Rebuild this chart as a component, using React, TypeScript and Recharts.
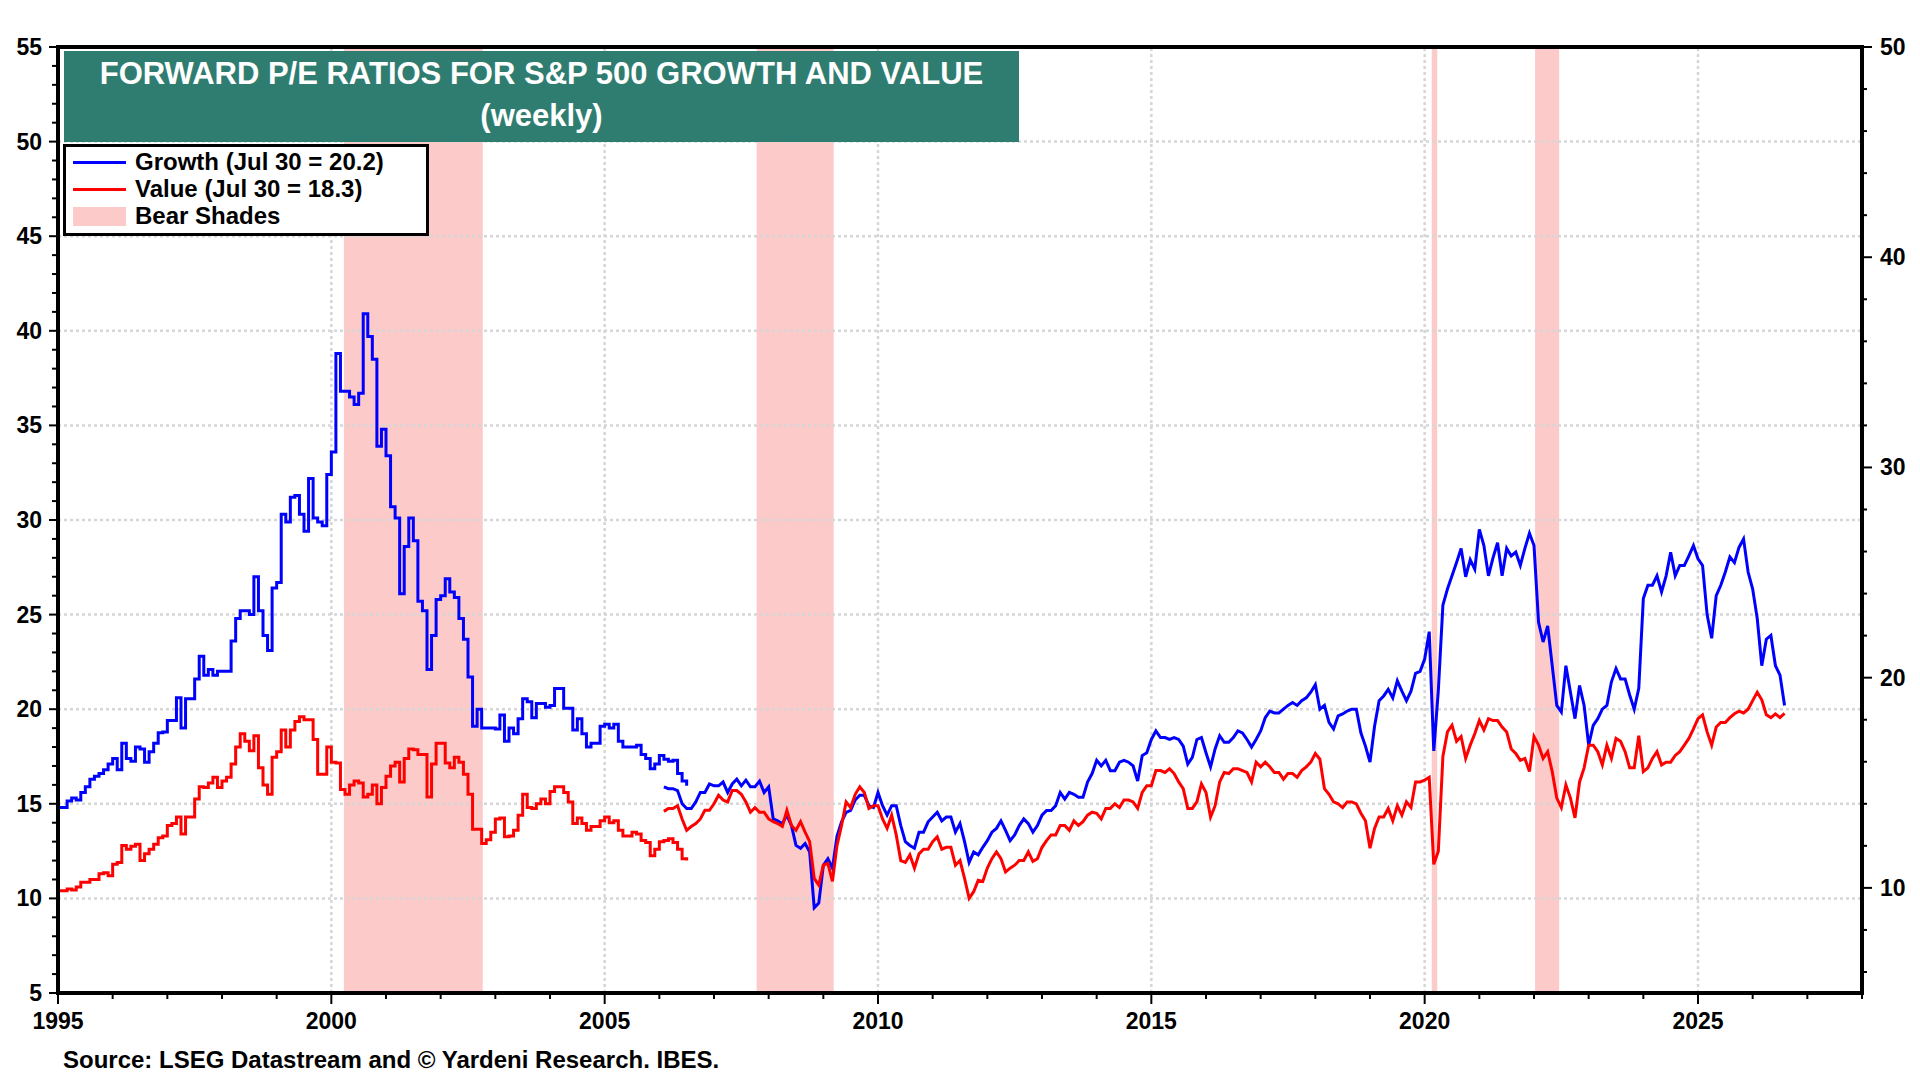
import React from 'react';
import { LineChart, Line, XAxis, YAxis, ReferenceArea, ReferenceLine } from 'recharts';

const FONT = '"Liberation Sans", Arial, Helvetica, sans-serif';

// Old series, monthly steps, Jan 1995 - Jul 2006
const growthOld = [
  14.8, 14.8, 15.15, 15.3, 15.2, 15.6, 15.9, 16.3, 16.45, 16.6, 16.8, 17.1, // 1995
  17.4, 16.8, 18.2, 17.4, 17.25, 18.0, 17.9, 17.2, 17.75, 18.2, 18.75, 18.8, // 1996
  19.4, 19.4, 20.6, 19.0, 20.55, 20.55, 21.6, 22.8, 21.8, 22.1, 21.8, 22.0, // 1997
  22.0, 22.0, 23.6, 24.8, 25.2, 25.2, 25.0, 27.0, 25.2, 23.9, 23.1, 26.4, // 1998
  26.7, 30.3, 29.9, 31.2, 31.3, 30.3, 29.4, 32.2, 30.1, 29.9, 29.7, 32.4, // 1999
  33.6, 38.8, 36.8, 36.8, 36.5, 36.1, 36.7, 40.9, 39.7, 38.5, 33.9, 34.8, // 2000
  33.4, 30.7, 30.1, 26.1, 28.6, 30.1, 28.9, 25.7, 25.2, 22.1, 23.9, 25.8, // 2001
  26.0, 26.9, 26.2, 25.9, 24.8, 23.7, 21.7, 19.1, 20.0, 19.0, 19.0, 19.0, // 2002
  18.95, 19.7, 18.3, 19.0, 18.7, 19.5, 20.55, 20.4, 19.55, 20.3, 20.3, 20.1, // 2003
  20.2, 21.1, 21.1, 20.05, 20.05, 18.9, 19.5, 18.7, 18.0, 18.2, 18.2, 19.1, // 2004
  19.2, 19.0, 19.2, 18.3, 18.0, 18.0, 18.0, 18.1, 17.6, 17.4, 16.85, 17.1, // 2005
  17.55, 17.35, 17.25, 17.3, 16.6, 16.2, 15.95, // 2006
];

const valueOld = [
  9.86, 9.86, 9.95, 9.9, 10.04, 10.27, 10.27, 10.4, 10.4, 10.67, 10.72, 10.58, // 1995
  11.12, 11.21, 12.02, 11.84, 11.98, 12.07, 11.3, 11.62, 11.84, 12.07, 12.38, 12.47, // 1996
  12.97, 13.06, 13.37, 12.56, 13.37, 13.37, 14.23, 14.81, 14.77, 14.99, 15.26, 14.77, // 1997
  15.08, 15.26, 15.89, 16.7, 17.33, 16.97, 16.52, 17.24, 15.71, 14.9, 14.45, 16.21, // 1998
  16.48, 17.51, 16.7, 17.51, 17.92, 18.14, 18.0, 18.0, 17.06, 15.4, 15.4, 16.7, // 1999
  15.98, 15.94, 14.68, 14.45, 14.9, 15.08, 14.99, 14.32, 14.45, 14.9, 14.0, 14.77, // 2000
  15.31, 15.8, 15.98, 15.04, 16.16, 16.61, 16.57, 16.34, 16.34, 14.32, 15.89, 16.88, // 2001
  16.88, 15.94, 15.71, 16.21, 15.98, 15.4, 14.45, 12.79, 12.79, 12.11, 12.29, 12.65, // 2002
  13.28, 13.33, 12.43, 12.47, 12.74, 13.46, 14.45, 13.82, 13.78, 14.0, 14.23, 14.0, // 2003
  14.59, 14.81, 14.81, 14.54, 14.09, 13.06, 13.33, 13.06, 12.74, 12.92, 12.92, 13.19, // 2004
  13.37, 13.1, 13.19, 12.74, 12.47, 12.47, 12.65, 12.56, 12.25, 12.16, 11.53, 11.84, // 2005
  12.2, 12.25, 12.34, 12.16, 11.84, 11.39, 11.3, // 2006
];

// New series, Feb 2006 - Jul 2026
const growthNew = [
  15.9, 15.8, 15.8, 15.7, 15.0, 14.75, 14.75, 15.1, 15.6, 15.6, 16.05, // 2006
  15.95, 15.95, 16.15, 15.6, 16.05, 16.3, 15.95, 16.25, 15.9, 15.9, 16.2, 15.6, // 2007
  15.9, 14.2, 14.1, 13.95, 14.4, 13.85, 12.8, 12.65, 12.9, 12.45, 9.5, 9.75, // 2008
  11.75, 12.1, 11.6, 13.3, 14.05, 14.55, 14.65, 15.2, 15.45, 15.45, 14.9, 14.8, // 2009
  15.6, 14.9, 14.4, 14.9, 14.9, 13.85, 13.0, 12.8, 12.65, 13.5, 13.5, 14.05, // 2010
  14.3, 14.55, 14.1, 14.3, 14.3, 13.5, 13.95, 13.0, 11.9, 12.45, 12.3, 12.7, // 2011
  13.05, 13.5, 13.7, 14.1, 13.6, 13.05, 13.35, 13.85, 14.2, 13.95, 13.5, 13.85, // 2012
  14.4, 14.65, 14.65, 14.9, 15.6, 15.25, 15.6, 15.5, 15.35, 15.35, 16.15, 16.6, // 2013
  17.3, 17.0, 17.3, 16.75, 16.75, 17.2, 17.3, 17.2, 17.0, 16.2, 17.55, 17.7, // 2014
  18.4, 18.85, 18.5, 18.5, 18.4, 18.5, 18.4, 18.05, 17.1, 17.45, 18.4, 18.5, // 2015
  17.7, 16.95, 17.9, 18.6, 18.25, 18.25, 18.5, 18.85, 18.75, 18.4, 18.0, 18.4, // 2016
  18.85, 19.55, 19.9, 19.8, 19.8, 20.0, 20.2, 20.35, 20.2, 20.45, 20.6, 20.9, // 2017
  21.3, 20.0, 20.2, 19.3, 18.95, 19.65, 19.75, 19.9, 20.0, 20.0, 18.75, 18.05, // 2018
  17.2, 19.1, 20.45, 20.7, 21.05, 20.6, 21.5, 20.95, 20.45, 20.95, 21.9, 22.0, // 2019
  22.65, 24.1, 17.8, 21.0, 25.5, 26.35, 27.05, 27.75, 28.5, 27.0, 27.9, 27.4, // 2020
  29.5, 28.65, 27.05, 28.0, 28.8, 27.05, 28.5, 28.1, 28.3, 27.6, 28.5, 29.3, // 2021
  28.65, 24.6, 23.55, 24.4, 22.3, 20.2, 19.85, 22.3, 20.9, 19.5, 21.25, 20.2, // 2022
  18.1, 19.15, 19.5, 20.0, 20.2, 21.45, 22.15, 21.6, 21.6, 20.75, 20.0, 21.1, // 2023
  25.85, 26.55, 26.55, 27.05, 26.2, 27.05, 28.3, 27.05, 27.6, 27.6, 28.1, 28.65, // 2024
  27.95, 27.6, 25.0, 23.75, 26.0, 26.55, 27.25, 28.05, 27.75, 28.55, 29.0, 27.25, // 2025
  26.35, 24.8, 22.3, 23.7, 23.9, 22.3, 21.8, 20.2, // 2026
];

const valueNew = [
  13.64, 13.78, 13.78, 13.91, 13.28, 12.74, 12.92, 13.06, 13.28, 13.69, 13.69, // 2006
  14.0, 14.41, 14.18, 14.09, 14.63, 14.63, 14.45, 14.09, 13.6, 13.82, 13.6, 13.6, // 2007
  13.28, 13.15, 13.06, 12.92, 13.69, 12.97, 12.74, 13.15, 12.65, 12.2, 10.45, 10.13, // 2008
  11.08, 11.17, 10.31, 12.02, 12.97, 14.09, 13.82, 14.45, 14.81, 14.54, 13.78, 13.91, // 2009
  13.91, 13.28, 12.83, 13.46, 12.52, 11.3, 11.21, 11.57, 10.94, 11.62, 11.84, 11.84, // 2010
  12.2, 12.43, 11.84, 11.93, 11.93, 11.08, 11.3, 10.45, 9.5, 9.82, 10.36, 10.31, // 2011
  10.94, 11.39, 11.71, 11.39, 10.76, 10.94, 11.08, 11.3, 11.3, 11.71, 11.26, 11.39, // 2012
  11.93, 12.25, 12.52, 12.52, 12.97, 12.97, 12.74, 13.19, 12.97, 13.15, 13.46, 13.6, // 2013
  13.55, 13.28, 13.78, 13.78, 14.0, 13.82, 14.18, 14.18, 14.09, 13.78, 14.54, 14.86, // 2014
  14.86, 15.58, 15.58, 15.49, 15.67, 15.44, 15.04, 14.72, 13.78, 13.78, 14.09, 14.95, // 2015
  14.54, 13.37, 13.91, 15.04, 15.49, 15.44, 15.67, 15.67, 15.58, 15.49, 15.04, 15.98, // 2016
  15.76, 15.98, 15.76, 15.49, 15.49, 15.17, 15.44, 15.44, 15.26, 15.58, 15.76, 15.98, // 2017
  16.39, 16.12, 14.72, 14.45, 14.09, 14.0, 13.82, 14.09, 14.09, 14.0, 13.55, 13.19, // 2018
  11.89, 12.83, 13.37, 13.37, 13.78, 13.19, 13.91, 13.46, 14.09, 13.82, 15.04, 15.04, // 2019
  15.13, 15.26, 11.12, 11.75, 16.25, 17.42, 17.74, 16.97, 17.2, 16.16, 16.79, 17.33, // 2020
  17.96, 17.51, 18.05, 17.96, 17.96, 17.65, 17.42, 16.61, 16.39, 16.07, 16.16, 15.53, // 2021
  17.2, 16.79, 16.16, 16.48, 15.53, 14.27, 13.82, 14.9, 14.27, 13.33, 15.04, 15.71, // 2022
  16.79, 16.79, 16.48, 15.85, 16.79, 16.16, 17.11, 16.97, 16.48, 15.71, 15.71, 17.24, // 2023
  15.53, 15.71, 16.16, 16.48, 15.85, 15.98, 15.98, 16.3, 16.48, 16.79, 17.11, 17.56, // 2024
  18.05, 18.23, 17.42, 16.79, 17.65, 17.87, 17.87, 18.1, 18.28, 18.41, 18.32, 18.5, // 2025
  18.91, 19.31, 18.95, 18.23, 18.1, 18.28, 18.1, 18.3, // 2026
];

const START_YEAR = 1995;
const NEW_START = 133; // Feb 2006, months after Jan 1995

const bearStart = [2000.23, 2007.78, 2020.13, 2022.02];
const bearEnd = [2002.77, 2009.19, 2020.23, 2022.46];

const yearTicks = Array.from({ length: 34 }, (_, i) => 1995 + i);
const leftTicks = Array.from({ length: 51 }, (_, i) => 5 + i);
const rightTicks = Array.from({ length: 23 }, (_, i) => 6 + i * 2);
const gridYears = [2000, 2005, 2010, 2015, 2020, 2025];
const gridLevels = [10, 15, 20, 25, 30, 35, 40, 45, 50];

const data = Array.from({ length: NEW_START + growthNew.length }, (_, i) => ({
  t: START_YEAR + i / 12,
  growthOld: i < growthOld.length ? growthOld[i] : null,
  valueOld: i < valueOld.length ? valueOld[i] : null,
  growthNew: i >= NEW_START ? growthNew[i - NEW_START] : null,
  valueNew: i >= NEW_START ? valueNew[i - NEW_START] : null,
}));

const legendItems = [
  { label: 'Growth (Jul 30 = 20.2)', color: '#0000FF', kind: 'line' },
  { label: 'Value (Jul 30 = 18.3)', color: '#FF0000', kind: 'line' },
  { label: 'Bear Shades', color: '#FDCACA', kind: 'box' },
];

const labelStyle = { fontFamily: FONT, fontWeight: 'bold' as const, fill: '#000' };

function XTick({ x, y, payload }: any) {
  const major = payload.value % 5 === 0;
  return (
    <g>
      <line x1={x} x2={x} y1={y} y2={y + (major ? 11 : 6)} stroke="#000" strokeWidth={2} />
      {major && (
        <text x={x} y={y + 36} textAnchor="middle" fontSize={23} {...labelStyle}>
          {payload.value}
        </text>
      )}
    </g>
  );
}

function LeftTick({ x, y, payload }: any) {
  const major = payload.value % 5 === 0;
  return (
    <g>
      <line x1={x - (major ? 9 : 6)} x2={x} y1={y} y2={y} stroke="#000" strokeWidth={2} />
      {major && (
        <text x={x - 16} y={y + 8} textAnchor="end" fontSize={23} {...labelStyle}>
          {payload.value}
        </text>
      )}
    </g>
  );
}

function RightTick({ x, y, payload }: any) {
  const major = payload.value % 10 === 0;
  return (
    <g>
      <line x1={x} x2={x + (major ? 10 : 5)} y1={y} y2={y} stroke="#000" strokeWidth={2} />
      {major && (
        <text x={x + 18} y={y + 8} textAnchor="start" fontSize={23} {...labelStyle}>
          {payload.value}
        </text>
      )}
    </g>
  );
}

export default function App() {
  return (
    <div style={{ position: 'absolute', left: 0, top: 0, width: 1920, height: 1080, background: '#fff' }}>
      <LineChart width={1920} height={1080} data={data} margin={{ top: 47, right: 8, bottom: 47, left: 8 }}>
        {bearStart.map((s, i) => (
          <ReferenceArea
            key={`bear-${i}`}
            yAxisId="left"
            x1={s}
            x2={bearEnd[i]}
            fill="#FDCACA"
            fillOpacity={1}
            stroke="none"
          />
        ))}
        {gridLevels.map((v) => (
          <ReferenceLine key={`gy-${v}`} yAxisId="left" y={v} stroke="#D6D6D6" strokeWidth={2.5} strokeDasharray="3 3" />
        ))}
        {gridYears.map((v) => (
          <ReferenceLine key={`gx-${v}`} yAxisId="left" x={v} stroke="#D6D6D6" strokeWidth={2.5} strokeDasharray="3 3" />
        ))}
        <XAxis
          dataKey="t"
          type="number"
          domain={[1995, 2028]}
          ticks={yearTicks}
          interval={0}
          height={40}
          axisLine={false}
          tickLine={false}
          tickSize={0}
          tickMargin={0}
          tick={<XTick />}
        />
        <YAxis
          yAxisId="left"
          orientation="left"
          domain={[5, 55]}
          ticks={leftTicks}
          interval={0}
          width={50}
          axisLine={false}
          tickLine={false}
          tickSize={0}
          tickMargin={0}
          tick={<LeftTick />}
        />
        <YAxis
          yAxisId="right"
          orientation="right"
          domain={[5, 50]}
          ticks={rightTicks}
          interval={0}
          width={50}
          axisLine={false}
          tickLine={false}
          tickSize={0}
          tickMargin={0}
          tick={<RightTick />}
        />
        <Line yAxisId="left" type="stepAfter" dataKey="growthOld" stroke="#0000FF" strokeWidth={3} dot={false} isAnimationActive={false} />
        <Line yAxisId="left" type="linear" dataKey="growthNew" stroke="#0000FF" strokeWidth={3} dot={false} isAnimationActive={false} />
        <Line yAxisId="right" type="stepAfter" dataKey="valueOld" stroke="#FF0000" strokeWidth={3} dot={false} isAnimationActive={false} />
        <Line yAxisId="right" type="linear" dataKey="valueNew" stroke="#FF0000" strokeWidth={3} dot={false} isAnimationActive={false} />
      </LineChart>

      {/* plot frame */}
      <div
        style={{
          position: 'absolute',
          left: 56,
          top: 45,
          width: 1808,
          height: 950,
          border: '4px solid #000',
          boxSizing: 'border-box',
          pointerEvents: 'none',
        }}
      />

      {/* title */}
      <div
        style={{
          position: 'absolute',
          left: 64,
          top: 51,
          width: 955,
          height: 91,
          background: '#2F7D71',
          color: '#fff',
          fontFamily: FONT,
          fontWeight: 'bold',
          fontSize: 31,
          lineHeight: '42px',
          textAlign: 'center',
          paddingTop: 2,
          boxSizing: 'border-box',
          whiteSpace: 'nowrap',
        }}
      >
        <div>FORWARD P/E RATIOS FOR S&amp;P 500 GROWTH AND VALUE</div>
        <div>(weekly)</div>
      </div>

      {/* legend */}
      <div
        style={{
          position: 'absolute',
          left: 63,
          top: 144,
          width: 366,
          height: 92,
          background: '#fff',
          border: '3px solid #000',
          boxSizing: 'border-box',
          fontFamily: FONT,
          fontWeight: 'bold',
          fontSize: 24,
          color: '#000',
        }}
      >
        {legendItems.map((item, i) => (
          <div key={item.label} style={{ position: 'absolute', left: 0, top: 3 + i * 27, height: 27, width: '100%' }}>
            <div
              style={{
                position: 'absolute',
                left: 7,
                width: 53,
                top: item.kind === 'line' ? 11 : 3,
                height: item.kind === 'line' ? 3 : 19,
                background: item.color,
              }}
            />
            <div style={{ position: 'absolute', left: 69, top: -2, lineHeight: '27px', whiteSpace: 'nowrap' }}>{item.label}</div>
          </div>
        ))}
      </div>

      {/* source */}
      <div
        style={{
          position: 'absolute',
          left: 63,
          top: 1046,
          fontFamily: FONT,
          fontWeight: 'bold',
          fontSize: 24,
          color: '#000',
          whiteSpace: 'nowrap',
        }}
      >
        Source: LSEG Datastream and © Yardeni Research. IBES.
      </div>
    </div>
  );
}
